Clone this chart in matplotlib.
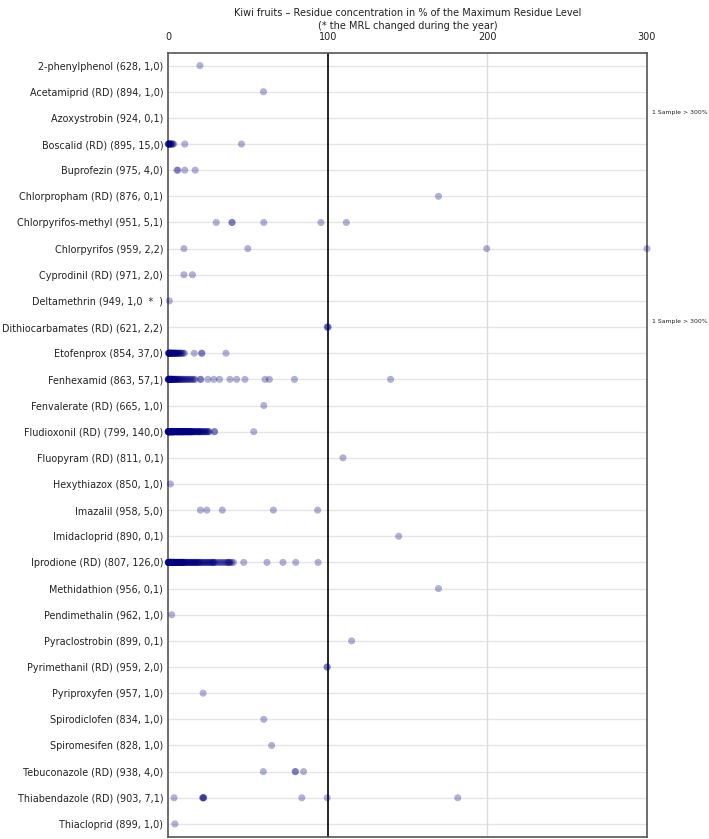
import matplotlib
matplotlib.use("Agg")
import matplotlib.pyplot as plt

labels = [
    "2-phenylphenol (628, 1,0)",
    "Acetamiprid (RD) (894, 1,0)",
    "Azoxystrobin (924, 0,1)",
    "Boscalid (RD) (895, 15,0)",
    "Buprofezin (975, 4,0)",
    "Chlorpropham (RD) (876, 0,1)",
    "Chlorpyrifos-methyl (951, 5,1)",
    "Chlorpyrifos (959, 2,2)",
    "Cyprodinil (RD) (971, 2,0)",
    "Deltamethrin (949, 1,0  *  )",
    "Dithiocarbamates (RD) (621, 2,2)",
    "Etofenprox (854, 37,0)",
    "Fenhexamid (863, 57,1)",
    "Fenvalerate (RD) (665, 1,0)",
    "Fludioxonil (RD) (799, 140,0)",
    "Fluopyram (RD) (811, 0,1)",
    "Hexythiazox (850, 1,0)",
    "Imazalil (958, 5,0)",
    "Imidacloprid (890, 0,1)",
    "Iprodione (RD) (807, 126,0)",
    "Methidathion (956, 0,1)",
    "Pendimethalin (962, 1,0)",
    "Pyraclostrobin (899, 0,1)",
    "Pyrimethanil (RD) (959, 2,0)",
    "Pyriproxyfen (957, 1,0)",
    "Spirodiclofen (834, 1,0)",
    "Spiromesifen (828, 1,0)",
    "Tebuconazole (RD) (938, 4,0)",
    "Thiabendazole (RD) (903, 7,1)",
    "Thiacloprid (899, 1,0)",
]

phenylphenol = [20]
acetamiprid = [59.8]
azoxystrobin = []
boscalid = [0.1, 0.2, 0.4, 0.5, 0.7, 0.9, 1.1, 1.4, 1.7, 2.0, 2.5, 3.0, 3.6, 10.5, 46]
buprofezin = [5.6, 6.2, 10.5, 17]
chlorpropham = [169.4]
chlorpyrifos_methyl = [30.2, 40, 40.2, 60, 95.8, 111.7]
chlorpyrifos = [10, 50, 199.6, 300]
cyprodinil = [10, 15.3]
deltamethrin = [0.8]
dithiocarbamates = [99.6, 100, 100.4]
etofenprox = [0.2, 0.4, 0.5, 0.7, 0.8, 1, 1.2, 1.3, 1.5, 1.7, 2, 2.2, 2.5, 2.7, 3,
              3.2, 3.5, 3.8, 4, 4.3, 4.6, 5, 5.3, 5.6, 6, 6.4, 6.8, 7.2, 7.7, 8.2,
              8.8, 9.5, 10.3, 16.4, 21, 21.3, 36.3]
fenhexamid = [0.1, 0.2, 0.3, 0.4, 0.5, 0.6, 0.8, 0.9, 1.0, 1.2,
              1.3, 1.5, 1.6, 1.8, 2.0, 2.2, 2.4, 2.6, 2.8, 3.0,
              3.3, 3.6, 3.9, 4.2, 4.5, 4.8, 5.2, 5.6, 6.0, 6.4,
              6.9, 7.4, 7.9, 8.4, 9.0, 9.6, 10.2, 10.9, 11.6, 12.3,
              13.0, 13.8, 14.6, 15.4, 16.2, 17.0,
              20.3, 20.5, 25, 28.7, 32.3, 38.8, 43, 48.2, 60.8, 63.5, 79.2, 139.4]
fenvalerate = [60]
fludioxonil = [0.1, 0.1, 0.2, 0.2, 0.3, 0.3, 0.4, 0.5, 0.5, 0.6,
               0.7, 0.8, 0.8, 0.9, 1.0, 1.0, 1.1, 1.2, 1.3, 1.4,
               1.5, 1.6, 1.7, 1.8, 1.9, 2.0, 2.1, 2.2, 2.3, 2.4,
               2.5, 2.6, 2.7, 2.8, 2.9, 3.0, 3.1, 3.2, 3.3, 3.4,
               3.5, 3.6, 3.7, 3.8, 3.9, 4.1, 4.3, 4.5, 4.7, 4.9,
               5.0, 5.1, 5.3, 5.4, 5.6, 5.7, 5.9, 6.0, 6.2, 6.3,
               6.5, 6.6, 6.8, 6.9, 7.1, 7.2, 7.4, 7.5, 7.7, 7.8,
               8.0, 8.1, 8.3, 8.4, 8.6, 8.7, 8.9, 9.0, 9.2, 9.3,
               9.5, 9.6, 9.8, 9.9, 10.0,
               10.2, 10.4, 10.6, 10.8, 11.0, 11.2, 11.4, 11.6, 11.8, 12.0,
               12.2, 12.4, 12.6, 12.8, 13.0, 13.2, 13.4, 13.6, 13.8, 14.0,
               14.2, 14.4, 14.6, 14.8, 15.0,
               15.3, 15.6, 15.9, 16.3, 16.7, 17.0, 17.4, 17.8, 18.1, 18.5,
               18.9, 19.2, 19.5, 19.8, 20.1,
               20.5, 21.0, 21.4, 21.9, 22.3, 22.8, 23.3, 23.8, 24.3, 24.8,
               25.3, 25.9, 29.0, 29.2, 53.7]
fluopyram = [109.6]
hexythiazox = [1.5]
imazalil = [20.3, 24.3, 34, 66, 93.7]
imidacloprid = [144.5]
iprodione = [0.1, 0.2, 0.2, 0.3, 0.4, 0.5, 0.5, 0.6, 0.7, 0.8,
             0.9, 1.0, 1.1, 1.2, 1.3, 1.4, 1.5, 1.6, 1.7, 1.8,
             2.0, 2.1, 2.2, 2.4, 2.5, 2.6, 2.8, 2.9, 3.0, 3.2,
             3.3, 3.5, 3.6, 3.8, 3.9, 4.1, 4.3, 4.5, 4.7, 4.9,
             5.1, 5.3, 5.5, 5.7, 5.9, 6.1, 6.3, 6.5, 6.7, 6.9,
             7.1, 7.3, 7.5, 7.7, 7.9, 8.1, 8.3, 8.5, 8.7, 8.9,
             9.1, 9.3, 9.5, 9.7, 9.9,
             10.2, 10.5, 10.9, 11.3, 11.7, 12.1, 12.5, 12.9, 13.3, 13.7,
             14.1, 14.5, 14.9, 15.3, 15.7, 16.1, 16.5, 16.9, 17.3, 17.7,
             18.1, 18.5, 18.9, 19.3, 19.7,
             20.2, 20.8, 21.4, 22.0, 22.6, 23.2, 23.8, 24.4, 25.0, 25.6,
             26.2, 26.8, 27.4, 28.0, 28.3, 28.6, 29.2, 29.8,
             31, 32, 33, 34, 35, 36, 37, 37.5, 38, 38.5, 39, 40, 41,
             47.4, 62, 72, 80, 94]
methidathion = [169.4]
pendimethalin = [2.3]
pyraclostrobin = [115]
pyrimethanil = [99.5, 99.8]
pyriproxyfen = [22]
spirodiclofen = [60]
spiromesifen = [64.9]
tebuconazole = [59.7, 79.6, 79.9, 84.9]
thiabendazole = [3.8, 21.6, 22, 22.2, 22.4, 83.8, 99.7, 181.5]
thiacloprid = [4.3]

series = [phenylphenol, acetamiprid, azoxystrobin, boscalid, buprofezin,
          chlorpropham, chlorpyrifos_methyl, chlorpyrifos, cyprodinil,
          deltamethrin, dithiocarbamates, etofenprox, fenhexamid, fenvalerate,
          fludioxonil, fluopyram, hexythiazox, imazalil, imidacloprid,
          iprodione, methidathion, pendimethalin, pyraclostrobin, pyrimethanil,
          pyriproxyfen, spirodiclofen, spiromesifen, tebuconazole,
          thiabendazole, thiacloprid]

over_300_rows = ["Azoxystrobin (924, 0,1)", "Dithiocarbamates (RD) (621, 2,2)"]
over_300_text = "1 Sample > 300%"
xticks = [0, 100, 200, 300]
title = ("Kiwi fruits \u2013 Residue concentration in % of the Maximum Residue Level\n"
         "(* the MRL changed during the year)")

plt.rcParams['font.family'] = ['DejaVu Sans']
fig = plt.figure(figsize=(7.09, 8.39), dpi=100)
ax = fig.add_axes([168 / 709, 1 - 837 / 839, (647 - 168) / 709, (837 - 52.5) / 839])

n = len(labels)
for i in range(n):
    ax.axhline(i, color="#e6e6e6", lw=1.0, zorder=0)
ax.axvline(200, color="#dcdcdc", lw=1.0, zorder=0)
ax.axvline(100, color="black", lw=1.2, zorder=1)

for i, vals in enumerate(series):
    if vals:
        ax.scatter(vals, [i] * len(vals), s=26, color="#000080", alpha=0.3,
                   edgecolors="none", zorder=3, clip_on=False)

for name in over_300_rows:
    i = labels.index(name)
    ax.text(303.0, i - 0.2, over_300_text, fontsize=4.4, color="#222222",
            ha="left", va="center", clip_on=False)

ax.set_xlim(0, 300)
ax.set_ylim(n - 0.5, -0.5)
ax.set_yticks(range(n))
ax.set_yticklabels(labels, fontsize=6.9, color="#222222")
ax.xaxis.tick_top()
ax.set_xticks(xticks)
ax.set_xticklabels([str(t) for t in xticks], fontsize=7.0, color="#222222")
ax.tick_params(axis="both", length=0)
ax.tick_params(axis="x", pad=7.5)
ax.tick_params(axis="y", pad=3.5)
for sp in ax.spines.values():
    sp.set_color("#555555")
    sp.set_linewidth(1.2)

fig.text(407.5 / 709, 1 - 19.5 / 839, title, ha="center", va="center",
         fontsize=7.0, color="#222222", linespacing=1.35)

fig.savefig("out.png", dpi=100)
